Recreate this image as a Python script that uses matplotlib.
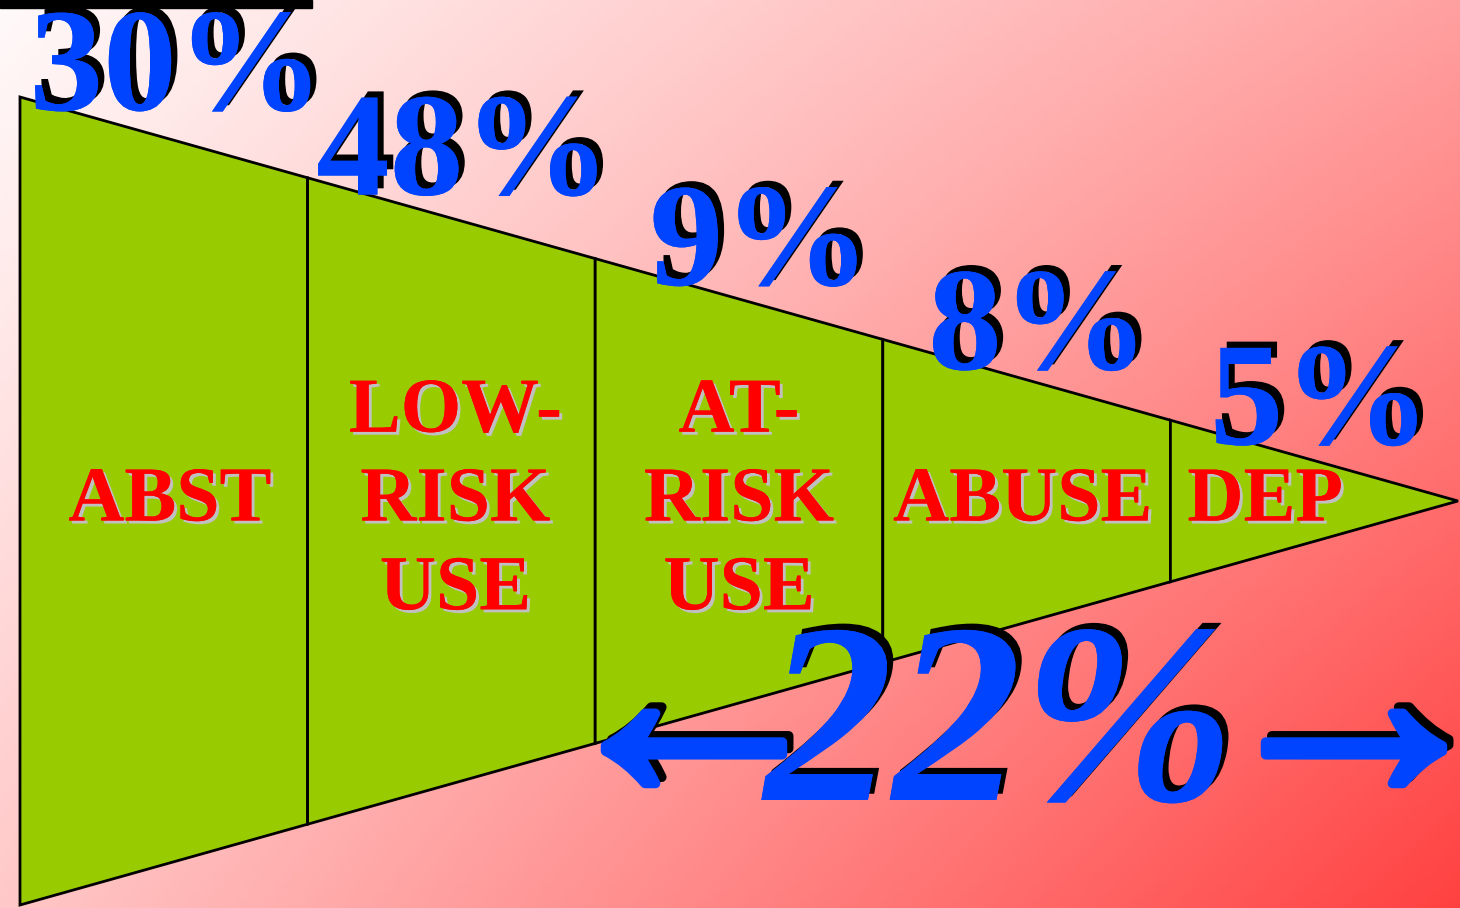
import matplotlib
matplotlib.use("Agg")
import matplotlib.pyplot as plt
import matplotlib.patheffects as pe
import numpy as np

# 데이터
stages = ["ABST", "LOW-\nRISK\nUSE", "AT-\nRISK\nUSE", "ABUSE", "DEP"]
shares = [30, 48, 9, 8, 5]
combined = 22  # at-risk + abuse + dep

# 라벨 미세 위치 (픽셀)
label_dx = [6, 4, 0, -4, -49]
pct_dx = [13, 12, 21, 12, 6]
pct_dy = [-31, -27, -20, -14, -18]

W, H = 1460, 908
fig = plt.figure(figsize=(W / 100, H / 100), dpi=100)
ax = fig.add_axes([0, 0, 1, 1])
ax.set_xlim(0, W)
ax.set_ylim(H, 0)
ax.axis("off")

# 배경 그라데이션 (좌상단 흰색 -> 우하단 빨강)
u, v = np.meshgrid(np.linspace(0, 1, 300), np.linspace(0, 1, 200))
gb = 250 - 90 * u - 50 * v - 45 * u * v
bg = np.dstack([np.full_like(gb, 255), gb, gb]) / 255
ax.imshow(np.clip(bg, 0, 1), extent=[0, W, H, 0], aspect="auto", zorder=0)

# 상단 검은 막대
ax.add_patch(plt.Rectangle((0, 0), 312, 8, color="black", zorder=1))

# 깔때기 (삼각형) 구간
x_left, x_apex = 20, 1458
y_mid, half = 501, 404
edges = np.linspace(x_left, x_apex, len(stages) + 1)


def half_h(x):
    return half * (x_apex - x) / (x_apex - x_left)


blue_shadow = [pe.withSimplePatchShadow(offset=(4.5, 4.5), shadow_rgbFace="black", alpha=1), pe.Normal()]

for i, name in enumerate(stages):
    a, b = edges[i], edges[i + 1]
    xs = [a, b, b, a]
    ys = [y_mid - half_h(a), y_mid - half_h(b), y_mid + half_h(b), y_mid + half_h(a)]
    ax.fill(xs, ys, facecolor="#99cc00", edgecolor="black", linewidth=2, zorder=2)

    cx = (a + b) / 2
    ax.text(cx + label_dx[i], y_mid + 1, name, color="#ff0000", fontsize=56,
            family="Liberation Serif", fontweight="bold", ha="center", va="center",
            linespacing=1.33, zorder=4,
            path_effects=[pe.withSimplePatchShadow(offset=(2.2, -2.2), shadow_rgbFace="#c0c0c0", alpha=1),
                          pe.Normal()])

    px = cx + pct_dx[i]
    ax.text(px, y_mid - half_h(px) + pct_dy[i], f"{shares[i]}%", color="#0044ff", fontsize=106,
            family="Liberation Serif", fontweight="bold", ha="center", va="baseline", zorder=5,
            path_effects=blue_shadow)

# 22% 화살표
ax.text(1000, 800, f"{combined}%", color="#0044ff", fontsize=185,
        family="Liberation Serif", fontweight="bold", fontstyle="italic",
        ha="center", va="baseline", zorder=6, path_effects=blue_shadow)

for ch, ax_x in [("\u2190", 694), ("\u2192", 1354)]:
    ax.text(ax_x, 798, ch, color="#0044ff", fontsize=215,
            family=["Liberation Serif", "DejaVu Serif"], fontweight="bold",
            ha="center", va="baseline", zorder=6,
            path_effects=[pe.Stroke(linewidth=7, foreground="black", offset=(4.5, 4.5)),
                          pe.Stroke(linewidth=7, foreground="#0044ff"), pe.Normal()])

fig.savefig("out.png", dpi=100)
